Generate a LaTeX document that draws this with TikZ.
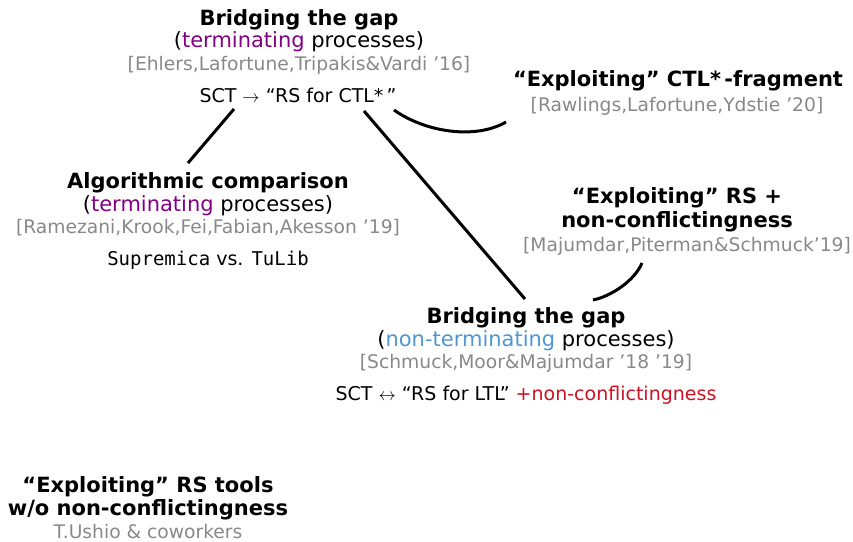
\documentclass[tikz,border=0pt]{standalone}
\usepackage{fontspec}
\setmainfont{DejaVu Sans}
\setmonofont{DejaVu Sans Mono}
\definecolor{termcol}{RGB}{128,0,128}
\definecolor{ntermcol}{RGB}{80,150,210}
\definecolor{conflcol}{RGB}{204,17,34}
\definecolor{citecol}{RGB}{136,136,136}
\begin{document}
\begin{tikzpicture}[x=1pt,y=-1pt,
  txt/.style={anchor=base,inner sep=0pt,outer sep=0pt},
  head/.style={txt,font=\fontsize{21}{23}\selectfont\bfseries},
  body/.style={txt,font=\fontsize{21}{23}\selectfont},
  formula/.style={txt,font=\fontsize{19}{22}\selectfont},
  cite/.style={txt,font=\fontsize{18.7}{21}\selectfont,text=citecol},
  link/.style={line width=3pt,black}]
\useasboundingbox (0,0) rectangle (853,541);

% top: bridging the gap, terminating processes
\node[head] (a1) at (299,25) {Bridging the gap};
\node[body] (a2) at (299,47) {(\textcolor{termcol}{terminating} processes)};
\node[cite] (a3) at (299,70) {[Ehlers,Lafortune,Tripakis\&Vardi ’16]};
\node[formula] (a4) at (298,102) {SCT $\rightarrow$ “RS for CTL*\,”};

% CTL* fragment
\node[head] (b1) at (678,86) {“Exploiting” CTL*\,-fragment};
\node[cite] (b2) at (677,111) {[Rawlings,Lafortune,Ydstie ’20]};

% algorithmic comparison
\node[head] (c1) at (208,188) {Algorithmic comparison};
\node[body] (c2) at (208,211) {(\textcolor{termcol}{terminating} processes)};
\node[cite] (c3) at (208,233) {[Ramezani,Krook,Fei,Fabian,Akesson ’19]};
\node[formula] (c4) at (208,265) {\texttt{Supremica} vs. \texttt{TuLib}};

% RS + non-conflictingness
\node[head] (d1) at (677,203) {“Exploiting” RS +};
\node[head] (d2) at (677,227) {non-conflictingness};
\node[cite] (d3) at (687,251) {[Majumdar,Piterman\&Schmuck’19]};

% bottom: bridging the gap, non-terminating processes
\node[head] (e1) at (526,323) {Bridging the gap};
\node[body] (e2) at (526,346) {(\textcolor{ntermcol}{non-terminating} processes)};
\node[cite] (e3) at (526,368) {[Schmuck,Moor\&Majumdar ’18 ’19]};
\node[formula] (e4) at (526,400) {SCT $\leftrightarrow$ “RS for LTL” \textcolor{conflcol}{+non-conflictingness}};

% RS tools without non-conflictingness
\node[head] (f1) at (148,492) {“Exploiting” RS tools};
\node[head] (f2) at (148,515) {w/o non-conflictingness};
\node[cite] (f3) at (148,538) {T.Ushio \& coworkers};

% attachment points of the connectors
\coordinate (a-left)  at (234,109);
\coordinate (a-mid)   at (364,111);
\coordinate (a-right) at (394,110);
\coordinate (c-top)   at (188,163);
\coordinate (b-left)  at (506,122);
\coordinate (e-top)   at (525,299);
\coordinate (e-right) at (593,300);
\coordinate (d-bot)   at (642,263);

\draw[link] (a-left) -- (c-top);
\draw[link] (a-mid) -- (e-top);
\draw[link] (a-right) .. controls (425,132) and (475,140) .. (b-left);
\draw[link] (e-right) .. controls (612,296) and (635,280) .. (d-bot);
\end{tikzpicture}
\end{document}
